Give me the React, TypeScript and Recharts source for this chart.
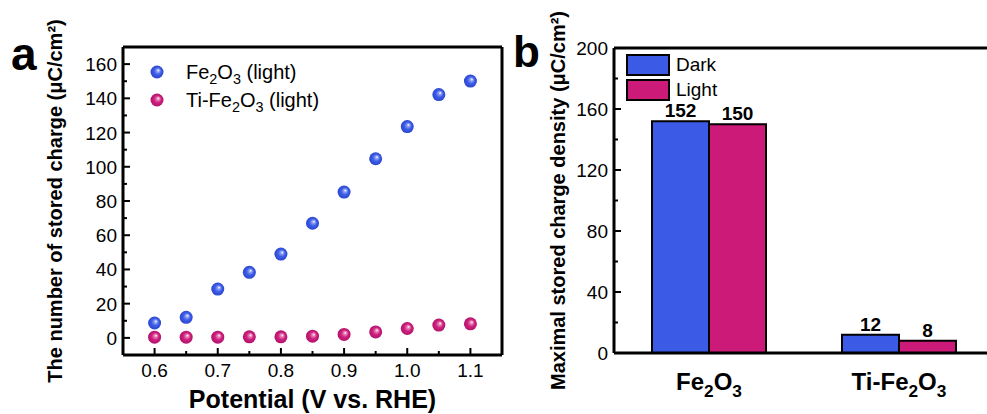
import React from "react";
import {
  ScatterChart,
  Scatter,
  BarChart,
  Bar,
  LabelList,
  XAxis,
  YAxis,
  ReferenceLine,
  Legend,
  Label,
} from "recharts";

// panel a: stored charge vs potential
const potential = [0.6, 0.65, 0.7, 0.75, 0.8, 0.85, 0.9, 0.95, 1.0, 1.05, 1.1];
const fe2o3Light = [8.7, 12, 28.5, 38.3, 49, 67, 85.2, 104.7, 123.5, 142.2, 150.1];
const tiFe2o3Light = [0.4, 0.4, 0.4, 0.6, 0.6, 1, 2, 3.5, 5.5, 7.5, 8.2];

const xTicksA = [0.6, 0.65, 0.7, 0.75, 0.8, 0.85, 0.9, 0.95, 1.0, 1.05, 1.1];
const yTicksA = [0, 10, 20, 30, 40, 50, 60, 70, 80, 90, 100, 110, 120, 130, 140, 150, 160];

// panel b: maximal stored charge density
const samples = ["Fe2O3", "Ti-Fe2O3"];
const darkCharge = [152, 12];
const lightCharge = [150, 8];
const yTicksB = [0, 20, 40, 60, 80, 100, 120, 140, 160, 180, 200];

const FONT = "Arial, 'Liberation Sans', Helvetica, sans-serif";
const BLUE = "#3b5be6";
const PINK = "#cc1a79";

const seriesA = [
  { name: "Fe2O3 (light)", ball: "url(#ballBlue)", values: fe2o3Light },
  { name: "Ti-Fe2O3 (light)", ball: "url(#ballPink)", values: tiFe2o3Light },
];

// split "Fe2O3" into tspans with subscripts
function Chem({ text, shift }: { text: string; shift: number }) {
  const parts = text.split(/(\d+)/).filter((p) => p !== "");
  let low = false;
  return (
    <>
      {parts.map((p, i) => {
        const num = /^\d+$/.test(p);
        const dy = num === low ? 0 : num ? shift : -shift;
        low = num;
        return (
          <tspan key={i} dy={dy} fontSize={num ? "0.72em" : undefined}>
            {p}
          </tspan>
        );
      })}
    </>
  );
}

function ChemHtml({ text }: { text: string }) {
  const parts = text.split(/(\d+)/).filter((p) => p !== "");
  return (
    <>
      {parts.map((p, i) =>
        /^\d+$/.test(p) ? (
          <sub key={i} style={{ fontSize: "0.72em", lineHeight: 0 }}>
            {p}
          </sub>
        ) : (
          <span key={i}>{p}</span>
        )
      )}
    </>
  );
}

const Ball = (props: any) => {
  const { cx, cy, fill } = props;
  if (cx == null || cy == null) return null;
  return <circle cx={cx} cy={cy} r={6.5} fill={fill} />;
};

const XTickA = ({ x, y, payload }: any) => {
  const v = payload.value as number;
  const major = Math.abs(v * 10 - Math.round(v * 10)) < 1e-6;
  return (
    <g>
      <line x1={x} x2={x} y1={y} y2={y - (major ? 7 : 4)} stroke="#000" strokeWidth={2} />
      {major && (
        <text x={x} y={y + 22} textAnchor="middle" fontSize={19} fontFamily={FONT} fill="#000">
          {v.toFixed(1)}
        </text>
      )}
    </g>
  );
};

const makeYTick = (majorStep: number) => ({ x, y, payload }: any) => {
  const v = payload.value as number;
  const major = v % majorStep === 0;
  return (
    <g>
      <line x1={x} x2={x + (major ? 7 : 4)} y1={y} y2={y} stroke="#000" strokeWidth={2} />
      {major && (
        <text x={x - 6} y={y + 7} textAnchor="end" fontSize={19} fontFamily={FONT} fill="#000">
          {v}
        </text>
      )}
    </g>
  );
};

const XTickB = ({ x, y, payload }: any) => (
  <text x={x} y={y + 37} textAnchor="middle" fontSize={24} fontWeight="bold" fontFamily={FONT} fill="#000">
    <Chem text={payload.value} shift={7} />
  </text>
);

const yTitle = (text: string, fromLeft: number) => (props: any) => {
  const { x, y, height } = props.viewBox;
  const cx = x + fromLeft;
  const cy = y + height / 2;
  return (
    <text
      x={cx}
      y={cy}
      transform={`rotate(-90 ${cx} ${cy})`}
      textAnchor="middle"
      dominantBaseline="central"
      fontSize={20}
      fontWeight="bold"
      fontFamily={FONT}
      fill="#000"
    >
      {text}
    </text>
  );
};

const LegendA = () => (
  <div style={{ fontFamily: FONT, fontSize: 20, color: "#000" }}>
    {seriesA.map((s) => (
      <div key={s.name} style={{ display: "flex", alignItems: "center", height: 28 }}>
        <svg width={14} height={14}>
          <circle cx={7} cy={7} r={6.5} fill={s.ball} />
        </svg>
        <span style={{ marginLeft: 22, whiteSpace: "nowrap" }}>
          <ChemHtml text={s.name} />
        </span>
      </div>
    ))}
  </div>
);

const LegendB = () => (
  <div style={{ fontFamily: FONT, fontSize: 19, color: "#000" }}>
    {[
      { name: "Dark", color: BLUE },
      { name: "Light", color: PINK },
    ].map((s, i) => (
      <div key={s.name} style={{ display: "flex", alignItems: "center", height: 22, marginTop: i ? 3 : 0 }}>
        <div
          style={{
            width: 44,
            height: 22,
            boxSizing: "border-box",
            border: "2px solid #000",
            background: s.color,
          }}
        />
        <span style={{ marginLeft: 6 }}>{s.name}</span>
      </div>
    ))}
  </div>
);

export default function App() {
  const barData = samples.map((s, i) => ({ sample: s, dark: darkCharge[i], light: lightCharge[i] }));

  return (
    <div
      style={{
        position: "fixed",
        left: 0,
        top: 0,
        width: 987,
        height: 414,
        overflow: "hidden",
        background: "#fff",
        fontFamily: FONT,
      }}
    >
      <svg width={0} height={0} style={{ position: "absolute" }}>
        <defs>
          <radialGradient id="ballBlue" cx="0.5" cy="0.5" r="0.5" fx="0.62" fy="0.36">
            <stop offset="0%" stopColor="#ffffff" />
            <stop offset="22%" stopColor="#8fa3f5" />
            <stop offset="55%" stopColor="#3d5ce8" />
            <stop offset="100%" stopColor="#2a46cc" />
          </radialGradient>
          <radialGradient id="ballPink" cx="0.5" cy="0.5" r="0.5" fx="0.62" fy="0.36">
            <stop offset="0%" stopColor="#ffffff" />
            <stop offset="22%" stopColor="#e884b8" />
            <stop offset="55%" stopColor="#d0207e" />
            <stop offset="100%" stopColor="#b0126a" />
          </radialGradient>
        </defs>
      </svg>

      {/* panel a */}
      <div style={{ position: "absolute", left: 0, top: 0 }}>
        <ScatterChart width={510} height={414} margin={{ top: 47, right: 8, bottom: 0, left: 0 }}>
          <XAxis
            type="number"
            dataKey="x"
            domain={[0.55, 1.15]}
            ticks={xTicksA}
            interval={0}
            height={59}
            tickSize={0}
            tickMargin={0}
            tickLine={false}
            axisLine={{ stroke: "#000", strokeWidth: 3 }}
            tick={XTickA}
          >
            <Label
              content={(props: any) => {
                const { x, width } = props.viewBox;
                return (
                  <text
                    x={x + width / 2}
                    y={408}
                    textAnchor="middle"
                    fontSize={25}
                    fontWeight="bold"
                    fontFamily={FONT}
                    fill="#000"
                  >
                    Potential (V vs. RHE)
                  </text>
                );
              }}
            />
          </XAxis>
          <YAxis
            type="number"
            dataKey="y"
            domain={[-10, 170]}
            ticks={yTicksA}
            interval={0}
            width={123}
            tickSize={0}
            tickMargin={0}
            tickLine={false}
            axisLine={{ stroke: "#000", strokeWidth: 3 }}
            tick={makeYTick(20)}
          >
            <Label content={yTitle("The number of stored charge (μC/cm²)", 55)} />
          </YAxis>
          <ReferenceLine y={170} stroke="#000" strokeWidth={3} />
          <ReferenceLine x={1.15} stroke="#000" strokeWidth={3} />
          {seriesA.map((s) => (
            <Scatter
              key={s.name}
              name={s.name}
              data={potential.map((p, i) => ({ x: p, y: s.values[i] }))}
              fill={s.ball}
              shape={<Ball />}
              isAnimationActive={false}
            />
          ))}
          <Legend
            layout="vertical"
            align="center"
            verticalAlign="middle"
            wrapperStyle={{ left: 150, top: 58, width: 240, height: 56 }}
            content={() => <LegendA />}
          />
        </ScatterChart>
      </div>

      {/* panel b */}
      <div style={{ position: "absolute", left: 500, top: 0 }}>
        <BarChart
          width={500}
          height={414}
          data={barData}
          margin={{ top: 48, right: 6, bottom: 0, left: 0 }}
          barCategoryGap="20%"
          barGap={0}
        >
          <XAxis
            dataKey="sample"
            height={61}
            tickSize={0}
            tickMargin={0}
            tickLine={false}
            interval={0}
            axisLine={{ stroke: "#000", strokeWidth: 3 }}
            tick={XTickB}
          />
          <YAxis
            type="number"
            domain={[0, 200]}
            ticks={yTicksB}
            interval={0}
            width={114}
            tickSize={0}
            tickMargin={0}
            tickLine={false}
            axisLine={{ stroke: "#000", strokeWidth: 3 }}
            tick={makeYTick(40)}
          >
            <Label content={yTitle("Maximal stored charge density (μC/cm²)", 58)} />
          </YAxis>
          <ReferenceLine y={200} stroke="#000" strokeWidth={3} />
          <Bar dataKey="dark" name="Dark" fill={BLUE} stroke="#000" strokeWidth={2} isAnimationActive={false}>
            <LabelList dataKey="dark" position="top" offset={4} fontSize={19} fontWeight="bold" fontFamily={FONT} fill="#000" />
          </Bar>
          <Bar dataKey="light" name="Light" fill={PINK} stroke="#000" strokeWidth={2} isAnimationActive={false}>
            <LabelList dataKey="light" position="top" offset={4} fontSize={19} fontWeight="bold" fontFamily={FONT} fill="#000" />
          </Bar>
          <Legend
            layout="vertical"
            align="center"
            verticalAlign="middle"
            wrapperStyle={{ left: 126, top: 54, width: 120, height: 47 }}
            content={() => <LegendB />}
          />
        </BarChart>
      </div>

      <div style={{ position: "absolute", left: 11, top: 31, fontSize: 46, fontWeight: "bold", lineHeight: 1 }}>a</div>
      <div style={{ position: "absolute", left: 513, top: 30, fontSize: 44, fontWeight: "bold", lineHeight: 1 }}>b</div>
    </div>
  );
}
